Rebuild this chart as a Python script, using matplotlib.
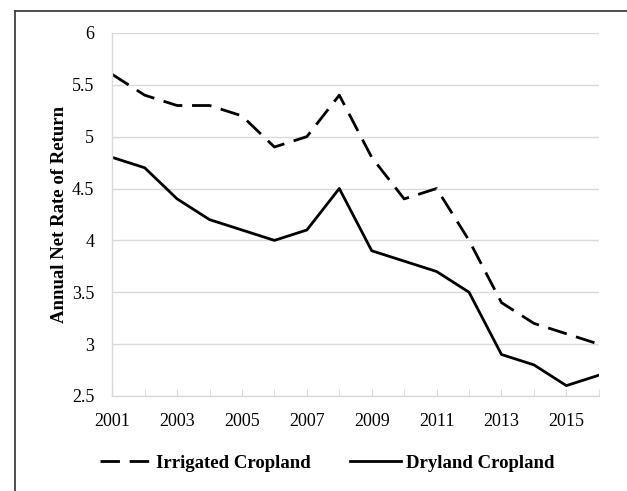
import matplotlib
matplotlib.use("Agg")
import matplotlib.pyplot as plt
from matplotlib.lines import Line2D

# values
years = list(range(2001, 2017))
irrigated = [5.6, 5.4, 5.3, 5.3, 5.2, 4.9, 5.0, 5.4, 4.8, 4.4, 4.5, 4.0, 3.4, 3.2, 3.1, 3.0]
dryland = [4.8, 4.7, 4.4, 4.2, 4.1, 4.0, 4.1, 4.5, 3.9, 3.8, 3.7, 3.5, 2.9, 2.8, 2.6, 2.7]
year_labels = [2001, 2003, 2005, 2007, 2009, 2011, 2013, 2015]
y_ticks = [2.5, 3, 3.5, 4, 4.5, 5, 5.5, 6]

plt.rcParams["font.family"] = ["Liberation Serif", "DejaVu Serif"]

fig = plt.figure(figsize=(6.27, 4.91), dpi=100)
ax = fig.add_axes([0.179, 0.1935, 0.776, 0.7395])

ax.plot(years, irrigated, color="black", lw=2.0, dashes=(7, 3.5), label="Irrigated Cropland")
ax.plot(years, dryland, color="black", lw=2.0, label="Dryland Cropland")

ax.set_xlim(2001, 2016)
ax.set_ylim(2.5, 6)
ax.set_yticks(y_ticks)
ax.set_yticklabels([f"{v:g}" for v in y_ticks])
ax.set_xticks(year_labels)
ax.set_xticklabels([str(y) for y in year_labels])
ax.set_xticks(years, minor=True)

ax.grid(axis="y", color="#d9d9d9", lw=1)
ax.set_axisbelow(True)
for side in ["top", "right"]:
    ax.spines[side].set_visible(False)
for side in ["left", "bottom"]:
    ax.spines[side].set_color("#d9d9d9")
    ax.spines[side].set_linewidth(1)

ax.tick_params(axis="y", length=0, pad=13, labelsize=13)
ax.tick_params(axis="x", which="both", direction="in", length=5, color="#d9d9d9", pad=12, labelsize=13)

ax.set_ylabel("Annual Net Rate of Return", fontsize=13.5, fontweight="bold", labelpad=3)

fig.legend(loc="center", bbox_to_anchor=(0.522, 0.057), ncol=2, frameon=False,
           handlelength=2.7, handletextpad=0.28, columnspacing=2.1,
           prop={"size": 13.5, "weight": "bold"})

# partial outer frame (left and top edges)
fx = 15 / 627
fy = 1 - 11 / 491
fig.add_artist(Line2D([fx, fx], [0, fy], transform=fig.transFigure, color="#404040", lw=1.3))
fig.add_artist(Line2D([fx, 1], [fy, fy], transform=fig.transFigure, color="#404040", lw=1.3))

fig.savefig("out.png", dpi=100)
